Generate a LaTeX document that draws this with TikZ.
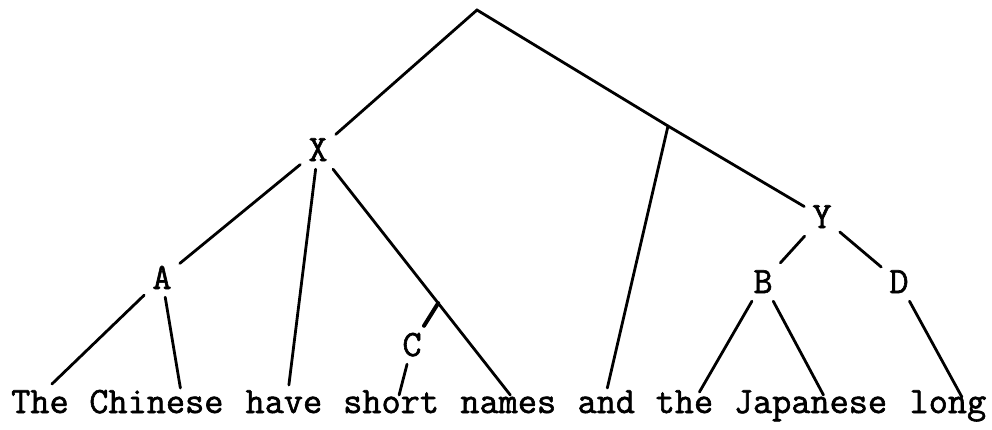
\documentclass[tikz,border=0pt]{standalone}
\usepackage{fontspec}
\newfontfamily\typew{Latin Modern Mono}[FakeBold=1.6]
\usetikzlibrary{calc}
\begin{document}
\begin{tikzpicture}[x=1pt,y=-1pt,
  wordbox/.style={font=\fontsize{37.2}{40}\selectfont\typew,inner sep=0pt,anchor=base west},
  lab/.style={font=\fontsize{37.2}{40}\selectfont\typew,inner sep=8pt,text height=22pt,text depth=0pt},
  edge/.style={line width=2.8pt,line cap=round},
  tick/.style={line width=4pt,line cap=round}]
\useasboundingbox (0,0) rectangle (992,429);
\def\cw{19.53}
% words of the sentence
\node[wordbox] (wThe) at (11,413) {The};
\node[wordbox] (wChinese) at ({11+4*\cw},413) {Chinese};
\node[wordbox] (whave) at ({11+12*\cw},413) {have};
\node[wordbox] (wshort) at ({11+17*\cw},413) {short};
\node[wordbox] (wnames) at ({11+23*\cw},413) {names};
\node[wordbox] (wand) at ({11+29*\cw},413) {and};
\node[wordbox] (wthe) at ({11+33*\cw},413) {the};
\node[wordbox] (wJapanese) at ({11+37*\cw},413) {Japanese};
\node[wordbox] (wlong) at ({11+46*\cw},413) {long};
% labels
\node[lab] (X) at (318,150) {X};
\node[lab] (A) at (162,278) {A};
\node[lab] (C) at (412,345) {C};
\node[lab] (Y) at (822,217) {Y};
\node[lab] (B) at (763,282) {B};
\node[lab] (D) at (899,282) {D};
\coordinate (root) at (477,10);
\coordinate (J) at (668,126);
% connectors
\draw[edge] (X) -- (root) -- (J) -- (Y);
\draw[edge] (J) -- ($(wand.base)+(1,-25)$);
\draw[edge] (X) -- (A);
\draw[edge] (A) -- ($(wThe.base)+(12,-29)$);
\draw[edge] (A) -- ($(wChinese.base)+(24,-25)$);
\draw[edge] (X) -- ($(whave.base)+(5,-28)$);
\coordinate (nm) at ($(wnames.base)+(2,-18)$);
\draw[edge] (X) -- (nm);
\coordinate (ct) at ($(X)!0.625!(nm)$);
\draw[tick] (ct) -- (C);
\draw[edge] (C) -- ($(wshort.base)+(8,-18)$);
\draw[edge] (Y) -- (B);
\draw[edge] (Y) -- (D);
\draw[edge] (B) -- ($(wthe.base)+(15,-21)$);
\draw[edge] (B) -- ($(wJapanese.base)+(13,-18)$);
\draw[edge] (D) -- ($(wlong.base)+(14,-16)$);
\end{tikzpicture}
\end{document}
